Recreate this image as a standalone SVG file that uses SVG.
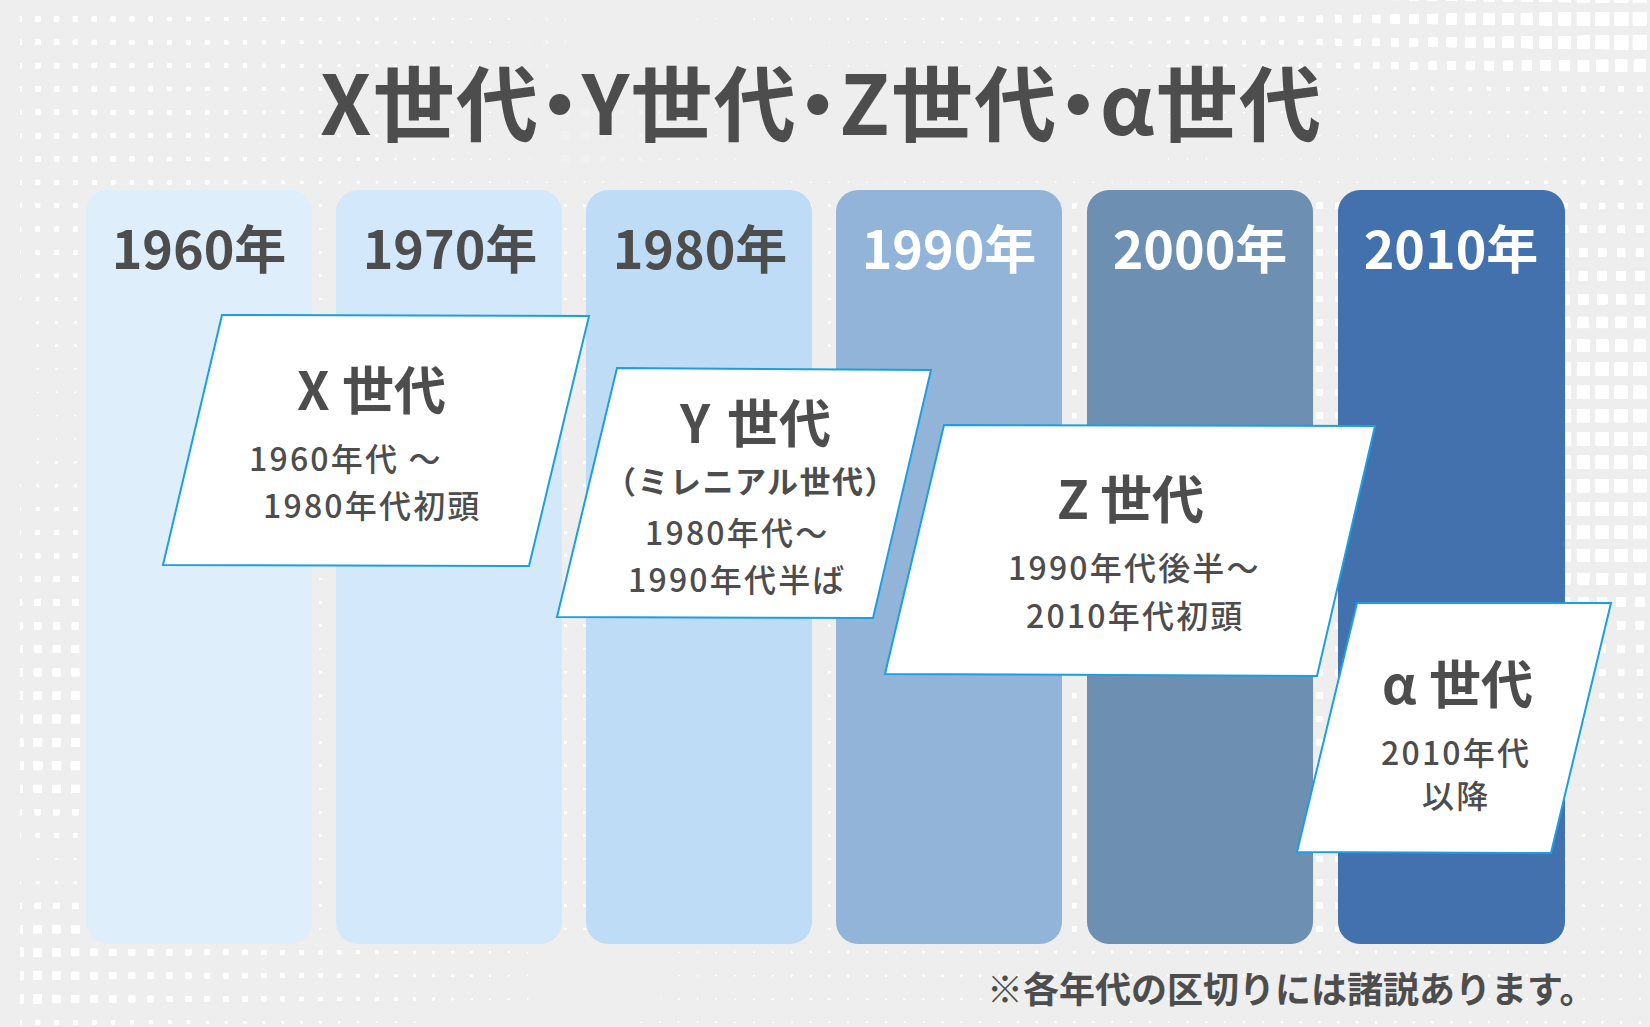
<svg xmlns="http://www.w3.org/2000/svg" width="1650" height="1027" viewBox="0 0 1650 1027">
<style>
  text { font-family: "Noto Sans CJK JP", "Noto Sans", sans-serif; fill: #4d4d4d; }
  .title { font-size: 82px; font-weight: 700; font-feature-settings: "palt"; }
  .year { font-size: 52px; font-weight: 700; text-anchor: middle; }
  .light { fill: #ffffff; }
  .gen { fill: #ffffff; stroke: #1c9fe0; stroke-width: 2; }
  .gname { font-size: 52px; font-weight: 700; }
  .mill { font-size: 31px; font-weight: 700; letter-spacing: 1.5px; text-anchor: middle; }
  .sub { font-size: 32px; font-weight: 500; letter-spacing: 2.2px; }
  .note { font-size: 36px; font-weight: 700; }
  .w { stop-color: #ffffff; }
</style>
<defs>
  <pattern id="dotTile" patternUnits="userSpaceOnUse" x="9.425" y="7.333" width="18.85" height="23.333">
    <rect width="18.85" height="23.333" fill="#000"/>
    <rect x="0.425" y="2.667" width="18" height="18" fill="rgb(7,7,7)"/>
    <rect x="0.925" y="3.167" width="17" height="17" fill="rgb(21,21,21)"/>
    <rect x="1.425" y="3.667" width="16" height="16" fill="rgb(34,34,34)"/>
    <rect x="1.925" y="4.167" width="15" height="15" fill="rgb(48,48,48)"/>
    <rect x="2.425" y="4.667" width="14" height="14" fill="rgb(62,62,62)"/>
    <rect x="2.925" y="5.167" width="13" height="13" fill="rgb(76,76,76)"/>
    <rect x="3.425" y="5.667" width="12" height="12" fill="rgb(90,90,90)"/>
    <rect x="3.925" y="6.167" width="11" height="11" fill="rgb(103,103,103)"/>
    <rect x="4.425" y="6.667" width="10" height="10" fill="rgb(117,117,117)"/>
    <rect x="4.925" y="7.167" width="9" height="9" fill="rgb(131,131,131)"/>
    <rect x="5.425" y="7.667" width="8" height="8" fill="rgb(145,145,145)"/>
    <rect x="5.925" y="8.167" width="7" height="7" fill="rgb(159,159,159)"/>
    <rect x="6.425" y="8.667" width="6" height="6" fill="rgb(172,172,172)"/>
    <rect x="6.925" y="9.167" width="5" height="5" fill="rgb(186,186,186)"/>
    <rect x="7.425" y="9.667" width="4" height="4" fill="rgb(200,200,200)"/>
    <rect x="7.925" y="10.167" width="3" height="3" fill="rgb(214,214,214)"/>
    <rect x="8.425" y="10.667" width="2" height="2" fill="rgb(228,228,228)"/>
    <rect x="8.925" y="11.167" width="1" height="1" fill="rgb(241,241,241)"/>
  </pattern>

  <linearGradient id="gT1" gradientUnits="userSpaceOnUse" x1="0" y1="0" x2="530" y2="0">
    <stop offset="0" class="w" stop-opacity="0.37"/>
    <stop offset="0.038" class="w" stop-opacity="0.37"/>
    <stop offset="0.566" class="w" stop-opacity="0.26"/>
    <stop offset="0.943" class="w" stop-opacity="0.14"/>
    <stop offset="0.99" class="w" stop-opacity="0.08"/>
    <stop offset="1" class="w" stop-opacity="0"/>
  </linearGradient>
  <linearGradient id="gS0" gradientUnits="userSpaceOnUse" x1="530" y1="0" x2="1650" y2="0">
    <stop offset="0" class="w" stop-opacity="0"/>
    <stop offset="0.152" class="w" stop-opacity="0.1"/>
    <stop offset="0.25" class="w" stop-opacity="0.135"/>
    <stop offset="0.464" class="w" stop-opacity="0.24"/>
    <stop offset="0.67" class="w" stop-opacity="0.35"/>
    <stop offset="0.806" class="w" stop-opacity="0.62"/>
    <stop offset="0.977" class="w" stop-opacity="0.84"/>
    <stop offset="1" class="w" stop-opacity="0.84"/>
  </linearGradient>
  <linearGradient id="gS1" gradientUnits="userSpaceOnUse" x1="530" y1="0" x2="1650" y2="0">
    <stop offset="0" class="w" stop-opacity="0"/>
    <stop offset="0.152" class="w" stop-opacity="0.08"/>
    <stop offset="0.25" class="w" stop-opacity="0.12"/>
    <stop offset="0.464" class="w" stop-opacity="0.19"/>
    <stop offset="0.67" class="w" stop-opacity="0.3"/>
    <stop offset="0.806" class="w" stop-opacity="0.57"/>
    <stop offset="0.977" class="w" stop-opacity="0.84"/>
    <stop offset="1" class="w" stop-opacity="0.84"/>
  </linearGradient>
  <linearGradient id="gS2" gradientUnits="userSpaceOnUse" x1="530" y1="0" x2="1650" y2="0">
    <stop offset="0" class="w" stop-opacity="0"/>
    <stop offset="0.152" class="w" stop-opacity="0.1"/>
    <stop offset="0.25" class="w" stop-opacity="0.135"/>
    <stop offset="0.464" class="w" stop-opacity="0.135"/>
    <stop offset="0.67" class="w" stop-opacity="0.24"/>
    <stop offset="0.806" class="w" stop-opacity="0.51"/>
    <stop offset="0.977" class="w" stop-opacity="0.73"/>
    <stop offset="1" class="w" stop-opacity="0.73"/>
  </linearGradient>
  <linearGradient id="gS3" gradientUnits="userSpaceOnUse" x1="530" y1="0" x2="1650" y2="0">
    <stop offset="0" class="w" stop-opacity="0"/>
    <stop offset="0.509" class="w" stop-opacity="0"/>
    <stop offset="0.55" class="w" stop-opacity="0.1"/>
    <stop offset="0.72" class="w" stop-opacity="0.19"/>
    <stop offset="0.977" class="w" stop-opacity="0.35"/>
    <stop offset="1" class="w" stop-opacity="0.35"/>
  </linearGradient>
  <linearGradient id="gS4" gradientUnits="userSpaceOnUse" x1="530" y1="0" x2="1650" y2="0">
    <stop offset="0" class="w" stop-opacity="0"/>
    <stop offset="0.509" class="w" stop-opacity="0.05"/>
    <stop offset="0.55" class="w" stop-opacity="0.12"/>
    <stop offset="0.72" class="w" stop-opacity="0.19"/>
    <stop offset="0.977" class="w" stop-opacity="0.24"/>
    <stop offset="1" class="w" stop-opacity="0.24"/>
  </linearGradient>
  <linearGradient id="gS5" gradientUnits="userSpaceOnUse" x1="530" y1="0" x2="1650" y2="0">
    <stop offset="0" class="w" stop-opacity="0"/>
    <stop offset="0.509" class="w" stop-opacity="0.05"/>
    <stop offset="0.55" class="w" stop-opacity="0.12"/>
    <stop offset="0.777" class="w" stop-opacity="0.16"/>
    <stop offset="0.977" class="w" stop-opacity="0.19"/>
    <stop offset="1" class="w" stop-opacity="0.19"/>
  </linearGradient>
  <linearGradient id="gS6" gradientUnits="userSpaceOnUse" x1="530" y1="0" x2="1650" y2="0">
    <stop offset="0" class="w" stop-opacity="0"/>
    <stop offset="0.509" class="w" stop-opacity="0.05"/>
    <stop offset="0.55" class="w" stop-opacity="0.1"/>
    <stop offset="0.821" class="w" stop-opacity="0.135"/>
    <stop offset="0.977" class="w" stop-opacity="0.24"/>
    <stop offset="1" class="w" stop-opacity="0.24"/>
  </linearGradient>
  <linearGradient id="gR182" gradientUnits="userSpaceOnUse" x1="0" y1="0" x2="1650" y2="0">
    <stop offset="0" class="w" stop-opacity="0.35"/>
    <stop offset="0.012" class="w" stop-opacity="0.35"/>
    <stop offset="0.182" class="w" stop-opacity="0.24"/>
    <stop offset="0.309" class="w" stop-opacity="0.135"/>
    <stop offset="0.848" class="w" stop-opacity="0.135"/>
    <stop offset="0.982" class="w" stop-opacity="0.3"/>
    <stop offset="1" class="w" stop-opacity="0.3"/>
  </linearGradient>
  <linearGradient id="gL" gradientUnits="userSpaceOnUse" x1="0" y1="195" x2="0" y2="944">
    <stop offset="0" class="w" stop-opacity="0.35"/>
    <stop offset="0.076" class="w" stop-opacity="0.3"/>
    <stop offset="0.139" class="w" stop-opacity="0.24"/>
    <stop offset="0.202" class="w" stop-opacity="0.19"/>
    <stop offset="0.263" class="w" stop-opacity="0.135"/>
    <stop offset="0.326" class="w" stop-opacity="0.135"/>
    <stop offset="0.389" class="w" stop-opacity="0.24"/>
    <stop offset="0.482" class="w" stop-opacity="0.35"/>
    <stop offset="0.575" class="w" stop-opacity="0.46"/>
    <stop offset="0.669" class="w" stop-opacity="0.51"/>
    <stop offset="0.762" class="w" stop-opacity="0.57"/>
    <stop offset="0.793" class="w" stop-opacity="0.51"/>
    <stop offset="0.824" class="w" stop-opacity="0.4"/>
    <stop offset="0.856" class="w" stop-opacity="0.3"/>
    <stop offset="0.886" class="w" stop-opacity="0.16"/>
    <stop offset="0.917" class="w" stop-opacity="0.24"/>
    <stop offset="0.949" class="w" stop-opacity="0.4"/>
    <stop offset="0.98" class="w" stop-opacity="0.51"/>
    <stop offset="1" class="w" stop-opacity="0.57"/>
  </linearGradient>
  <linearGradient id="gM" gradientUnits="userSpaceOnUse" x1="86" y1="0" x2="1565" y2="0">
    <stop offset="0" class="w" stop-opacity="0.19"/>
    <stop offset="0.517" class="w" stop-opacity="0.19"/>
    <stop offset="0.668" class="w" stop-opacity="0.35"/>
    <stop offset="0.834" class="w" stop-opacity="0.4"/>
    <stop offset="1" class="w" stop-opacity="0.4"/>
  </linearGradient>
  <linearGradient id="gR" gradientUnits="userSpaceOnUse" x1="0" y1="195" x2="0" y2="944">
    <stop offset="0" class="w" stop-opacity="0.35"/>
    <stop offset="0.045" class="w" stop-opacity="0.46"/>
    <stop offset="0.076" class="w" stop-opacity="0.51"/>
    <stop offset="0.107" class="w" stop-opacity="0.57"/>
    <stop offset="0.138" class="w" stop-opacity="0.62"/>
    <stop offset="0.17" class="w" stop-opacity="0.68"/>
    <stop offset="0.2" class="w" stop-opacity="0.73"/>
    <stop offset="0.232" class="w" stop-opacity="0.78"/>
    <stop offset="0.487" class="w" stop-opacity="0.78"/>
    <stop offset="0.518" class="w" stop-opacity="0.68"/>
    <stop offset="0.549" class="w" stop-opacity="0.57"/>
    <stop offset="0.581" class="w" stop-opacity="0.51"/>
    <stop offset="0.611" class="w" stop-opacity="0.46"/>
    <stop offset="0.642" class="w" stop-opacity="0.4"/>
    <stop offset="0.674" class="w" stop-opacity="0.35"/>
    <stop offset="0.705" class="w" stop-opacity="0.3"/>
    <stop offset="0.736" class="w" stop-opacity="0.24"/>
    <stop offset="0.768" class="w" stop-opacity="0.21"/>
    <stop offset="1" class="w" stop-opacity="0.19"/>
  </linearGradient>
  <linearGradient id="gB1" gradientUnits="userSpaceOnUse" x1="0" y1="0" x2="1650" y2="0">
    <stop offset="0" class="w" stop-opacity="0.57"/>
    <stop offset="0.012" class="w" stop-opacity="0.57"/>
    <stop offset="0.057" class="w" stop-opacity="0.46"/>
    <stop offset="0.102" class="w" stop-opacity="0.4"/>
    <stop offset="0.148" class="w" stop-opacity="0.35"/>
    <stop offset="0.194" class="w" stop-opacity="0.3"/>
    <stop offset="0.24" class="w" stop-opacity="0.24"/>
    <stop offset="0.285" class="w" stop-opacity="0.19"/>
    <stop offset="0.32" class="w" stop-opacity="0.135"/>
    <stop offset="0.33" class="w" stop-opacity="0"/>
    <stop offset="0.4" class="w" stop-opacity="0"/>
    <stop offset="0.412" class="w" stop-opacity="0.135"/>
    <stop offset="0.606" class="w" stop-opacity="0.19"/>
    <stop offset="1" class="w" stop-opacity="0.19"/>
  </linearGradient>
  <linearGradient id="gB2" gradientUnits="userSpaceOnUse" x1="0" y1="0" x2="1650" y2="0">
    <stop offset="0" class="w" stop-opacity="0.35"/>
    <stop offset="0.012" class="w" stop-opacity="0.35"/>
    <stop offset="0.121" class="w" stop-opacity="0.24"/>
    <stop offset="0.252" class="w" stop-opacity="0.135"/>
    <stop offset="0.261" class="w" stop-opacity="0"/>
    <stop offset="0.382" class="w" stop-opacity="0"/>
    <stop offset="0.388" class="w" stop-opacity="0.135"/>
    <stop offset="1" class="w" stop-opacity="0.19"/>
  </linearGradient>

  <mask id="dotField" maskUnits="userSpaceOnUse" x="0" y="0" width="1650" height="1027">
    <rect x="0" y="0" width="1650" height="1027" fill="#000"/>
    <rect x="0" y="-15" width="530" height="185" fill="url(#gT1)"/>
    <rect x="530" y="-15" width="1120" height="45" fill="url(#gS0)"/>
    <rect x="530" y="30" width="1120" height="24" fill="url(#gS1)"/>
    <rect x="530" y="54" width="1120" height="23" fill="url(#gS2)"/>
    <rect x="530" y="77" width="1120" height="23" fill="url(#gS3)"/>
    <rect x="530" y="100" width="1120" height="23" fill="url(#gS4)"/>
    <rect x="530" y="123" width="1120" height="24" fill="url(#gS5)"/>
    <rect x="530" y="147" width="1120" height="23" fill="url(#gS6)"/>
    <rect x="0" y="170" width="1650" height="25" fill="url(#gR182)"/>
    <rect x="0" y="195" width="86" height="749" fill="url(#gL)"/>
    <rect x="86" y="195" width="1479" height="749" fill="url(#gM)"/>
    <rect x="1565" y="195" width="85" height="749" fill="url(#gR)"/>
    <rect x="0" y="944" width="1650" height="66" fill="url(#gB1)"/>
    <rect x="0" y="1010" width="1650" height="17" fill="url(#gB2)"/>
  </mask>

  <filter id="halftone" filterUnits="userSpaceOnUse" x="0" y="0" width="1650" height="1027" color-interpolation-filters="sRGB">
    <feColorMatrix type="matrix" values="0 0 0 0 1  0 0 0 0 1  0 0 0 0 1  40 0 0 40 -40"/>
  </filter>

  <clipPath id="dotClip">
    <rect x="20" y="0" width="1630" height="1027"/>
  </clipPath>
</defs>

<rect id="background" x="0" y="0" width="1650" height="1027" fill="#eeeeee"/>

<g id="dot-pattern" clip-path="url(#dotClip)" filter="url(#halftone)">
  <g mask="url(#dotField)">
    <rect x="0" y="0" width="1650" height="1027" fill="url(#dotTile)"/>
  </g>
</g>

<g id="title">
  <text class="title" x="320" y="135" textLength="1001" lengthAdjust="spacing">X世代・Y世代・Z世代・α世代</text>
</g>

<g id="col-1960">
  <rect x="86" y="190" width="226" height="754" rx="22" fill="#deeefb"/>
  <text class="year" x="199" y="269">1960年</text>
</g>
<g id="col-1970">
  <rect x="336" y="190" width="226" height="754" rx="22" fill="#d3e8fb"/>
  <text class="year" x="450" y="269">1970年</text>
</g>
<g id="col-1980">
  <rect x="586" y="190" width="226" height="754" rx="22" fill="#bfdcf7"/>
  <text class="year" x="700" y="269">1980年</text>
</g>
<g id="col-1990">
  <rect x="836" y="190" width="226" height="754" rx="22" fill="#92b4d9"/>
  <text class="year light" x="949" y="269">1990年</text>
</g>
<g id="col-2000">
  <rect x="1087" y="190" width="226" height="754" rx="22" fill="#6c8fb2"/>
  <text class="year light" x="1200" y="269">2000年</text>
</g>
<g id="col-2010">
  <rect x="1338" y="190" width="227" height="754" rx="22" fill="#4371ad"/>
  <text class="year light" x="1451" y="269">2010年</text>
</g>

<g id="connectors"></g>

<g id="gen-x">
  <polygon class="gen" points="222,315 589,316 529,566 163,565"/>
  <text class="gname" y="410"><tspan x="297">X</tspan><tspan x="342">世代</tspan></text>
  <text class="sub" x="249" y="471">1960年代 ～</text>
  <text class="sub" x="263" y="518">1980年代初頭</text>
</g>
<g id="gen-y">
  <polygon class="gen" points="617,368 931,370 873,618 557,617"/>
  <text class="gname" y="443"><tspan x="680">Y</tspan><tspan x="727">世代</tspan></text>
  <text class="mill" x="751" y="493">（ミレニアル世代）</text>
  <text class="sub" x="645" y="545">1980年代～</text>
  <text class="sub" x="628" y="592">1990年代半ば</text>
</g>
<g id="gen-z">
  <polygon class="gen" points="944,425 1375,426 1317,676 885,674"/>
  <text class="gname" y="519"><tspan x="1057">Z</tspan><tspan x="1100">世代</tspan></text>
  <text class="sub" x="1008" y="580">1990年代後半～</text>
  <text class="sub" x="1026" y="628">2010年代初頭</text>
</g>
<g id="gen-alpha">
  <polygon class="gen" points="1357,603 1611,603 1551,853 1297,852"/>
  <text class="gname" y="704"><tspan x="1382">α</tspan><tspan x="1429">世代</tspan></text>
  <text class="sub" x="1381" y="765">2010年代</text>
  <text class="sub" x="1422" y="808">以降</text>
</g>

<g id="footnote">
  <text class="note" x="987" y="1003">※各年代の区切りには諸説あります。</text>
</g>
</svg>
